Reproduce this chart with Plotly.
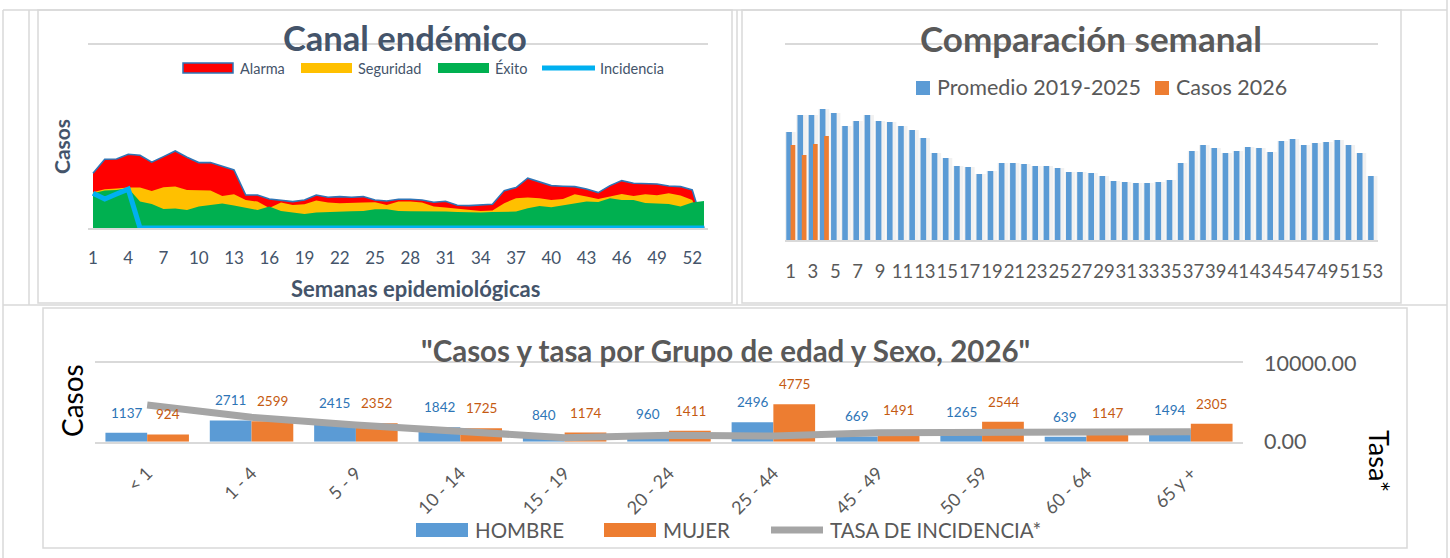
import plotly.graph_objects as go

W, H = 1450, 558
FONT = "Lato"

# ---------------- data ----------------
weeks = list(range(1, 54))
alarma = [274, 344, 345, 369, 364, 329, 357, 385, 354, 327, 327, 307, 290,
          165, 165, 145, 140, 132, 140, 165, 154, 157, 154, 157, 140, 135,
          144, 144, 140, 129, 134, 114, 112, 115, 119, 187, 202, 249, 229,
          212, 209, 207, 195, 177, 212, 237, 224, 222, 220, 210, 207, 190, 0]
seguridad = [179, 194, 197, 202, 202, 185, 204, 207, 190, 190, 187, 160, 169,
             140, 132, 100, 127, 115, 119, 137, 127, 124, 124, 127, 129, 115,
             132, 132, 127, 107, 102, 97, 90, 85, 87, 124, 149, 152, 149,
             140, 145, 169, 157, 145, 157, 170, 160, 169, 164, 174, 162, 140, 0]
exito = [174, 187, 190, 199, 132, 120, 95, 97, 90, 107, 115, 122, 112,
         102, 90, 107, 85, 77, 70, 77, 80, 82, 84, 85, 94, 94,
         85, 84, 84, 85, 82, 80, 79, 77, 80, 82, 82, 99, 110,
         104, 114, 124, 132, 130, 149, 140, 140, 125, 124, 120, 107, 127, 135]
incidencia = [174, 145, 170, 194, 0, 0, 0, 0, 0, 0, 0, 0, 0,
              0, 0, 0, 0, 0, 0, 0, 0, 0, 0, 0, 0, 0,
              0, 0, 0, 0, 0, 0, 0, 0, 0, 0, 0, 0, 0,
              0, 0, 0, 0, 0, 0, 0, 0, 0, 0, 0, 0, 0, 0]
canal_max = 915
week_ticks = [1, 4, 7, 10, 13, 16, 19, 22, 25, 28, 31, 34, 37, 40, 43, 46, 49, 52]

promedio = [1080, 1250, 1250, 1310, 1270, 1140, 1190, 1250, 1190, 1180,
            1140, 1100, 1020, 870, 820, 740, 730, 660, 690, 770,
            770, 760, 740, 740, 720, 680, 680, 670, 640, 590,
            580, 570, 570, 580, 600, 770, 890, 950, 920, 870,
            890, 930, 920, 880, 990, 1010, 950, 970, 980, 1000,
            950, 870, 640]
weeks_2026 = [1, 2, 3, 4]
casos_2026 = [950, 850, 960, 1040]
comp_max = 1950
comp_ticks = [1, 3, 5, 7, 9, 11, 13, 15, 17, 19, 21, 23, 25, 27, 29, 31, 33,
              35, 37, 39, 41, 43, 45, 47, 49, 51, 53]

grupos = ["< 1", "1 - 4", "5 - 9", "10 - 14", "15 - 19", "20 - 24",
          "25 - 44", "45 - 49", "50 - 59", "60 - 64", "65 y +"]
hombre = [1137, 2711, 2415, 1842, 840, 960, 2496, 669, 1265, 639, 1494]
mujer = [924, 2599, 2352, 1725, 1174, 1411, 4775, 1491, 2544, 1147, 2305]
tasa = [4680, 3110, 2130, 1360, 510, 815, 730, 1150, 1150, 1280, 1280]
edad_max = 10000


def X(px):
    return px / W


def Y(py):
    return 1 - py / H


C1 = "#44546A"
GR = "#595959"
GRID = "#D9D9D9"

fig = go.Figure()

# ---------------- chart 1: canal endemico ----------------
fig.add_trace(go.Scatter(x=weeks, y=alarma, mode="lines", fill="tozeroy",
                         fillcolor="#FF0000", line=dict(color="#2E75B6", width=1.6),
                         name="Alarma", xaxis="x", yaxis="y", showlegend=False))
fig.add_trace(go.Scatter(x=weeks, y=seguridad, mode="lines", fill="tozeroy",
                         fillcolor="#FFC000", line=dict(color="#FFC000", width=0),
                         name="Seguridad", xaxis="x", yaxis="y", showlegend=False))
fig.add_trace(go.Scatter(x=weeks, y=exito, mode="lines", fill="tozeroy",
                         fillcolor="#00B050", line=dict(color="#00B050", width=0),
                         name="Éxito", xaxis="x", yaxis="y", showlegend=False))
fig.add_trace(go.Scatter(x=weeks, y=incidencia, mode="lines",
                         line=dict(color="#00B0F0", width=5),
                         name="Incidencia", xaxis="x", yaxis="y", showlegend=False))

# ---------------- chart 2: comparacion semanal ----------------
fig.add_trace(go.Bar(x=weeks, y=promedio, width=0.95, offset=-0.5,
                     marker=dict(color="rgba(120,120,120,0.10)", line=dict(width=0)),
                     name="sombra", xaxis="x2", yaxis="y2", showlegend=False, hoverinfo="skip"))
fig.add_trace(go.Bar(x=weeks, y=promedio, width=0.5, offset=-0.385,
                     marker=dict(color="#5B9BD5", line=dict(width=0)),
                     name="Promedio 2019-2025", xaxis="x2", yaxis="y2", showlegend=False))
fig.add_trace(go.Bar(x=weeks_2026, y=casos_2026, width=0.42, offset=0.0,
                     marker=dict(color="#ED7D31", line=dict(width=0)),
                     name="Casos 2026", xaxis="x2", yaxis="y2", showlegend=False))

# ---------------- chart 3: grupo de edad ----------------
fig.add_trace(go.Bar(x=grupos, y=hombre, width=0.4, offset=-0.4,
                     marker=dict(color="#5B9BD5", line=dict(width=0)),
                     name="HOMBRE", xaxis="x3", yaxis="y3", showlegend=False))
fig.add_trace(go.Bar(x=grupos, y=mujer, width=0.4, offset=0.0,
                     marker=dict(color="#ED7D31", line=dict(width=0)),
                     name="MUJER", xaxis="x3", yaxis="y3", showlegend=False))
fig.add_trace(go.Scatter(x=grupos, y=tasa, mode="lines",
                         line=dict(color="#A5A5A5", width=7),
                         name="TASA DE INCIDENCIA*", xaxis="x3", yaxis="y4", showlegend=False))

ann = []
for g, v in zip(grupos, hombre):
    ann.append(dict(x=g, y=v, xref="x3", yref="y3", text=str(v), showarrow=False,
                    xshift=-21, yshift=20, font=dict(family=FONT, size=13.5, color="#2E75B6")))
for g, v in zip(grupos, mujer):
    ann.append(dict(x=g, y=v, xref="x3", yref="y3", text=str(v), showarrow=False,
                    xshift=21, yshift=20, font=dict(family=FONT, size=13.5, color="#C55A11")))


def txt(x, y, s, size, color, bold=False, angle=0, xanchor="center"):
    ann.append(dict(x=X(x), y=Y(y), xref="paper", yref="paper", text=(f"<b>{s}</b>" if bold else s),
                    showarrow=False, textangle=angle, xanchor=xanchor, yanchor="middle",
                    font=dict(family=FONT, size=size, color=color)))


# titles / axis titles
txt(405, 38, "Canal endémico", 34.5, C1, bold=True)
txt(61, 147, "Casos", 21, C1, bold=True, angle=-90)
txt(415, 289, "Semanas epidemiológicas", 22, C1, bold=True)
txt(1091, 38, "Comparación semanal", 35, GR, bold=True)
txt(725, 350, "\"Casos y tasa por Grupo de edad y Sexo, 2026\"", 29.5, GR, bold=True)
txt(72, 401, "Casos", 28, "#000000", angle=-90)
txt(1380, 461, "Tasa*", 27, "#000000", angle=90)

shapes = []


def rect(x0, y0, x1, y1, fill, line_color=None, lw=0):
    shapes.append(dict(type="rect", xref="paper", yref="paper", x0=X(x0), x1=X(x1),
                       y0=Y(y1), y1=Y(y0), fillcolor=fill,
                       line=dict(color=line_color or fill, width=lw)))


def hline(x0, x1, y, color=GRID, lw=1.5):
    shapes.append(dict(type="line", xref="paper", yref="paper", x0=X(x0), x1=X(x1),
                       y0=Y(y), y1=Y(y), line=dict(color=color, width=lw)))


def vline(x, y0, y1, color=GRID, lw=1.5):
    shapes.append(dict(type="line", xref="paper", yref="paper", x0=X(x), x1=X(x),
                       y0=Y(y0), y1=Y(y1), line=dict(color=color, width=lw)))


# legend chart 1
rect(183, 63, 233, 73, "#FF0000", "#2E75B6", 1.5)
txt(238, 68, "Alarma", 14.5, C1, xanchor="left")
rect(301, 63, 352, 73, "#FFC000")
txt(356, 68, "Seguridad", 14.5, C1, xanchor="left")
rect(438, 63, 489, 73, "#00B050")
txt(493, 68, "Éxito", 14.5, C1, xanchor="left")
hline(542, 595, 68, "#00B0F0", 5)
txt(598, 68, "Incidencia", 14.5, C1, xanchor="left")

# legend chart 2
rect(916, 81, 930, 95, "#5B9BD5")
txt(935, 87, "Promedio 2019-2025", 21.5, GR, xanchor="left")
rect(1155, 81, 1169, 95, "#ED7D31")
txt(1174, 87, "Casos 2026", 21.5, GR, xanchor="left")

# legend chart 3
rect(416, 523, 468, 537, "#5B9BD5")
txt(473, 530, "HOMBRE", 20.5, GR, xanchor="left")
rect(604, 523, 656, 537, "#ED7D31")
txt(661, 530, "MUJER", 20.5, GR, xanchor="left")
hline(771, 823, 530, "#A5A5A5", 7)
txt(828, 530, "TASA DE INCIDENCIA*", 20.5, GR, xanchor="left")

# frames
hline(3, 1447, 10)
vline(3, 10, 558)
vline(29, 10, 305)
vline(737, 10, 305)
vline(1447, 0, 558)
hline(3, 1447, 305)
shapes.append(dict(type="rect", xref="paper", yref="paper", x0=X(38), x1=X(732), y0=Y(303), y1=Y(10),
                   line=dict(color=GRID, width=1.5)))
shapes.append(dict(type="rect", xref="paper", yref="paper", x0=X(742), x1=X(1401), y0=Y(303), y1=Y(10),
                   line=dict(color=GRID, width=1.5)))
shapes.append(dict(type="rect", xref="paper", yref="paper", x0=X(43), x1=X(1407), y0=Y(548), y1=Y(308),
                   line=dict(color=GRID, width=1.5)))

# x axes draw the bottom baseline and (mirrored) the top limit line of each plot
line_kw = dict(showline=True, mirror=True, linecolor=GRID, linewidth=2)

fig.update_layout(
    template="none",
    width=W, height=H, margin=dict(l=0, r=0, t=0, b=0, pad=0), autosize=False,
    paper_bgcolor="white", plot_bgcolor="rgba(0,0,0,0)",
    barmode="overlay", showlegend=False,
    font=dict(family=FONT, color=GR),
    annotations=ann, shapes=shapes,
    xaxis=dict(domain=[X(88), X(708)], range=[1 - 5 / 11.75, 53 + 4 / 11.75], anchor="y",
               tickmode="array", tickvals=week_ticks, ticks="", tickangle=0, automargin=False,
               ticklabelstandoff=14, tickfont=dict(family=FONT, size=17, color=C1),
               showgrid=False, zeroline=False, **line_kw),
    yaxis=dict(domain=[Y(228), Y(45)], range=[0, canal_max], anchor="x", automargin=False,
               showticklabels=False, ticks="", showgrid=False, zeroline=False, showline=False),
    xaxis2=dict(domain=[X(785), X(1378)], range=[0.5, 53.5], anchor="y2", automargin=False,
                tickmode="array", tickvals=comp_ticks, ticks="", tickangle=0,
                ticklabelstandoff=14, tickfont=dict(family=FONT, size=18.5, color=GR),
                showgrid=False, zeroline=False, **line_kw),
    yaxis2=dict(domain=[Y(240), Y(45)], range=[0, comp_max], anchor="x2", automargin=False,
                showticklabels=False, ticks="", showgrid=False, zeroline=False, showline=False),
    xaxis3=dict(domain=[X(95), X(1243)], range=[-0.5, 10.5], anchor="y3", automargin=False,
                type="category", ticks="", tickangle=-45, ticklabelstandoff=12,
                tickfont=dict(family=FONT, size=18, color=GR),
                showgrid=False, zeroline=False, **line_kw),
    yaxis3=dict(domain=[Y(441.7), Y(363.3)], range=[0, edad_max], anchor="x3", automargin=False,
                showticklabels=False, ticks="", showgrid=False, zeroline=False, showline=False),
    yaxis4=dict(overlaying="y3", side="right", anchor="x3", range=[0, edad_max], automargin=False,
                tickmode="array", tickvals=[0, edad_max], tickformat=".2f", ticks="",
                ticklabelstandoff=20, tickfont=dict(family=FONT, size=21.5, color=GR),
                showgrid=False, zeroline=False, showline=False),
)

fig.write_html("out.html", config={"displayModeBar": False},
               post_script="document.body.style.margin='0';document.body.style.overflow='hidden';")
